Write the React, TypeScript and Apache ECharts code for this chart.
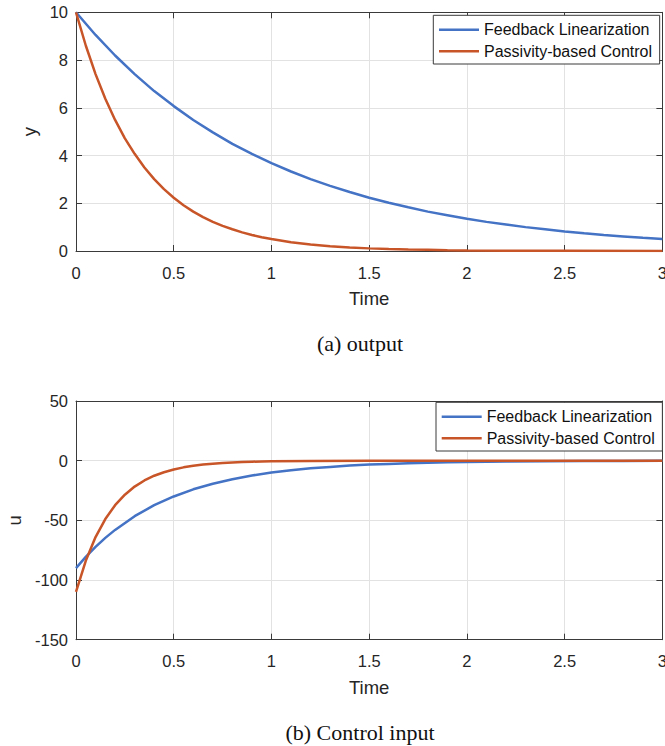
import React, { useEffect, useRef } from "react";
import * as echarts from "echarts";

// ---- data ----
const seriesNames = ["Feedback Linearization", "Passivity-based Control"];

// (a) output y
const tOutFL = [0, 0.1, 0.2, 0.3, 0.4, 0.5, 0.6, 0.7, 0.8, 0.9, 1.0, 1.1, 1.2, 1.3, 1.4, 1.5, 1.6, 1.7, 1.8, 1.9, 2.0, 2.1, 2.2, 2.3, 2.4, 2.5, 2.6, 2.7, 2.8, 2.9, 3.0];
const yOutFL = [10, 9.05, 8.19, 7.41, 6.7, 6.07, 5.49, 4.97, 4.49, 4.07, 3.68, 3.33, 3.01, 2.73, 2.47, 2.23, 2.02, 1.83, 1.65, 1.5, 1.35, 1.22, 1.11, 1.0, 0.91, 0.82, 0.74, 0.67, 0.61, 0.55, 0.5];

const tOutPBC = [0, 0.05, 0.1, 0.15, 0.2, 0.25, 0.3, 0.35, 0.4, 0.45, 0.5, 0.55, 0.6, 0.65, 0.7, 0.75, 0.8, 0.85, 0.9, 0.95, 1.0, 1.1, 1.2, 1.3, 1.4, 1.5, 1.6, 1.7, 1.8, 1.9, 2.0, 2.2, 2.5, 3.0];
const yOutPBC = [10, 8.61, 7.41, 6.38, 5.49, 4.72, 4.07, 3.5, 3.01, 2.59, 2.23, 1.92, 1.65, 1.42, 1.22, 1.05, 0.91, 0.78, 0.67, 0.58, 0.5, 0.37, 0.27, 0.2, 0.15, 0.11, 0.08, 0.06, 0.05, 0.03, 0.02, 0.01, 0.01, 0];

// (b) control input u
const tInFL = [0, 0.05, 0.1, 0.15, 0.2, 0.3, 0.4, 0.5, 0.6, 0.7, 0.8, 0.9, 1.0, 1.1, 1.2, 1.3, 1.4, 1.5, 1.6, 1.7, 1.8, 1.9, 2.0, 2.2, 2.4, 2.6, 2.8, 3.0];
const uInFL = [-90, -80.6, -72.2, -64.7, -58.0, -46.5, -37.3, -30.0, -24.0, -19.3, -15.5, -12.4, -10.0, -8.0, -6.4, -5.2, -4.1, -3.3, -2.7, -2.1, -1.7, -1.4, -1.1, -0.7, -0.5, -0.3, -0.2, -0.1];

const tInPBC = [0, 0.05, 0.1, 0.15, 0.2, 0.25, 0.3, 0.35, 0.4, 0.45, 0.5, 0.55, 0.6, 0.65, 0.7, 0.75, 0.8, 0.85, 0.9, 0.95, 1.0, 1.2, 1.5, 2.0, 3.0];
const uInPBC = [-110, -83.9, -64.0, -48.9, -37.3, -28.5, -21.7, -16.6, -12.6, -9.7, -7.4, -5.6, -4.3, -3.3, -2.5, -1.9, -1.5, -1.1, -0.85, -0.65, -0.5, -0.2, -0.05, 0, 0];

const captions = ["(a) output", "(b) Control input"];

const BLUE = "#4472C4";
const RED = "#C85528";
const INK = "#262626";
const FONT = "'Liberation Sans', Arial, Helvetica, sans-serif";

function pairs(t: number[], v: number[]) {
  return t.map((x, i) => [x, v[i]]);
}

export default function App() {
  const ref = useRef<HTMLDivElement>(null);

  useEffect(() => {
    if (!ref.current) return;
    const chart = echarts.init(ref.current, null, { renderer: "svg" });

    const gridL = 76;
    const gridW = 586.4;
    const grids = [
      { left: gridL, top: 12.3, width: gridW, height: 238.7, outerBoundsMode: "none", containLabel: false },
      { left: gridL, top: 401, width: gridW, height: 238.7, outerBoundsMode: "none", containLabel: false },
    ];

    const axisLine = { show: true, onZero: false, lineStyle: { color: "#3a3a3a", width: 1 } };
    const tick = { show: true, inside: true, length: 6, lineStyle: { color: "#3a3a3a" } };
    const split = { show: true, lineStyle: { color: "#e2e2e2", width: 1 } };
    const label = { color: INK, fontSize: 16.5, fontFamily: FONT };

    const xBase = (gi: number) => ({
      type: "value",
      gridIndex: gi,
      min: 0,
      max: 3,
      interval: 0.5,
    });

    const xAxis: any[] = [];
    const yAxis: any[] = [];
    const yRanges = [
      { min: 0, max: 10, interval: 2, name: "y", gap: 32 },
      { min: -150, max: 50, interval: 50, name: "u", gap: 47 },
    ];
    [0, 1].forEach((gi) => {
      xAxis.push({
        ...xBase(gi),
        position: "bottom",
        axisLine,
        axisTick: tick,
        splitLine: split,
        axisLabel: { ...label, margin: 13, showMinLabel: true, showMaxLabel: true, hideOverlap: false },
        name: "Time",
        nameLocation: "middle",
        nameGap: 38,
        nameTextStyle: { color: INK, fontSize: 18.5, fontFamily: FONT },
      });
      xAxis.push({
        ...xBase(gi),
        position: "top",
        axisLine,
        axisTick: tick,
        splitLine: { show: false },
        axisLabel: { show: false },
      });
      const r = yRanges[gi];
      yAxis.push({
        type: "value",
        gridIndex: gi,
        min: r.min,
        max: r.max,
        interval: r.interval,
        position: "left",
        axisLine,
        axisTick: tick,
        splitLine: split,
        axisLabel: { ...label, margin: 8, showMinLabel: true, showMaxLabel: true },
        name: r.name,
        nameLocation: "middle",
        nameGap: r.gap,
        nameTextStyle: { color: INK, fontSize: 18.5, fontFamily: FONT },
      });
      yAxis.push({
        type: "value",
        gridIndex: gi,
        min: r.min,
        max: r.max,
        interval: r.interval,
        position: "right",
        axisLine,
        axisTick: tick,
        splitLine: { show: false },
        axisLabel: { show: false },
      });
    });

    const line = (name: string, color: string, data: number[][], ax: number) => ({
      type: "line",
      name,
      xAxisIndex: ax,
      yAxisIndex: ax,
      data,
      symbol: "none",
      showSymbol: false,
      smooth: false,
      lineStyle: { color, width: 2.5 },
      itemStyle: { color },
      z: 3,
    });

    const series = [
      line(seriesNames[0], BLUE, pairs(tOutFL, yOutFL), 0),
      line(seriesNames[1], RED, pairs(tOutPBC, yOutPBC), 0),
      line(seriesNames[0], BLUE, pairs(tInFL, uInFL), 2),
      line(seriesNames[1], RED, pairs(tInPBC, uInPBC), 2),
    ];

    const legendBase = {
      orient: "vertical",
      icon: "rect",
      itemWidth: 40,
      itemHeight: 2.5,
      itemGap: 5.6,
      padding: [6.4, 7.6, 4.7, 5.7],
      borderColor: "#3a3a3a",
      borderWidth: 1,
      backgroundColor: "#ffffff",
      selectedMode: false,
      textStyle: { color: "#111", fontSize: 16, fontFamily: FONT, lineHeight: 16 },
      data: seriesNames,
      z: 10,
    };

    chart.setOption({
      animation: false,
      backgroundColor: "#ffffff",
      grid: grids,
      xAxis,
      yAxis,
      series,
      legend: [
        { ...legendBase, left: 433.3, top: 15.3 },
        { ...legendBase, left: 436, top: 402.3 },
      ],
      graphic: [
        {
          type: "text",
          x: 360,
          y: 343,
          style: {
            text: captions[0],
            font: "22px 'Liberation Serif', 'Times New Roman', serif",
            fill: "#111",
            align: "center",
            verticalAlign: "middle",
          },
        },
        {
          type: "text",
          x: 360,
          y: 732,
          style: {
            text: captions[1],
            font: "22px 'Liberation Serif', 'Times New Roman', serif",
            fill: "#111",
            align: "center",
            verticalAlign: "middle",
          },
        },
      ],
    });

    return () => chart.dispose();
  }, []);

  return (
    <div
      ref={ref}
      style={{ position: "absolute", left: 0, top: 0, width: 665, height: 746 }}
    />
  );
}
